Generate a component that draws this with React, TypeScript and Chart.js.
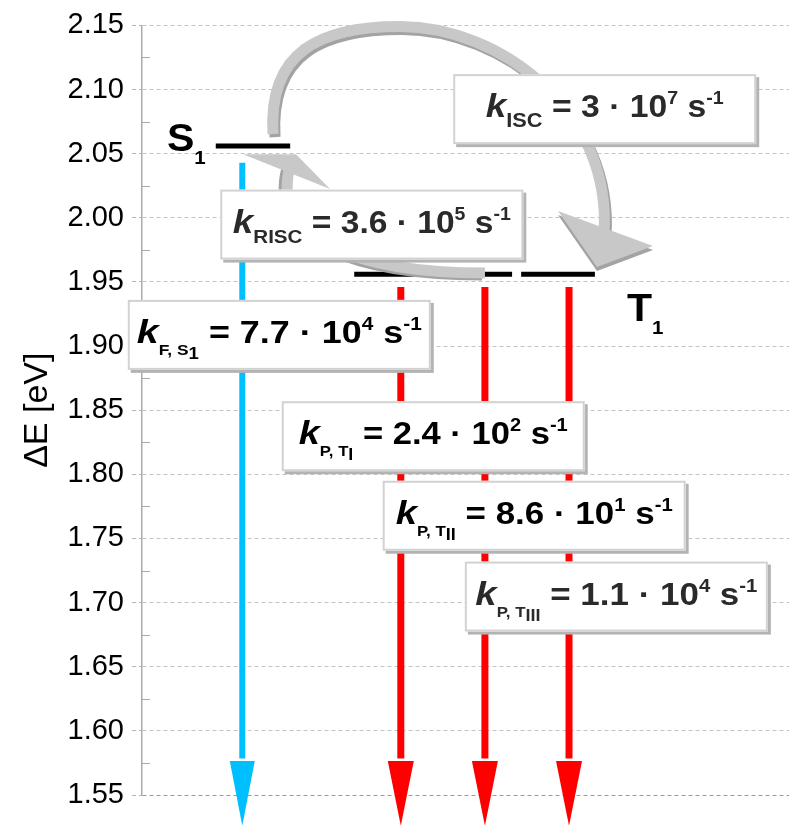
import { useEffect, useRef } from 'react';
import { Chart, registerables } from 'chart.js';
Chart.register(...registerables);

const FONT = '"Liberation Sans", Arial, sans-serif';

// energy axis
const yMin = 1.55;
const yMax = 2.15;
const yStep = 0.05;
const xMin = 0;
const xMax = 10;

// energy levels (S1 and three triplet sub-levels)
const levelNames = ['S1', 'TI', 'TII', 'TIII'];
const levelEnergy = [2.056, 1.956, 1.956, 1.956];
const levelStart = [1.14, 3.28, 4.56, 5.86];
const levelEnd = [2.29, 4.42, 5.72, 7.0];

// radiative decays (arrows)
const decayNames = ['F, S1', 'P, TI', 'P, TII', 'P, TIII'];
const decayX = [1.55, 4.0, 5.3, 6.6];
const decayTop = [2.043, 1.946, 1.946, 1.946];
const decayHeadBase = [1.5765, 1.5765, 1.5765, 1.5765];
const decayTip = [1.526, 1.526, 1.526, 1.526];
const decayColors = ['#00BFFF', '#FF0000', '#FF0000', '#FF0000'];

// rate constants
const rateSub = ['ISC', 'RISC', 'F, S', 'P, T', 'P, T', 'P, T'];
const rateSubSub = ['', '', '1', 'I', 'II', 'III'];
const rateMantissa = ['3', '3.6', '7.7', '2.4', '8.6', '1.1'];
const rateExponent = ['7', '5', '4', '2', '1', '4'];
const boxX = [4.81, 1.21, -0.22, 2.16, 3.72, 4.99];
const boxE = [2.112, 2.022, 1.936, 1.857, 1.795, 1.732];

// curved ISC / RISC arrows (start point then cubic segments)
const iscPathX = [2.025, 1.947, 2.751, 3.988, 5.533, 7.264, 7.141];
const iscPathE = [2.0652, 2.1298, 2.1492, 2.1492, 2.1492, 2.0831, 1.9881];
const iscHeadX = [6.43, 7.898, 7.032];
const iscHeadE = [2.0053, 1.978, 1.9617];
const riscPathX = [5.301, 3.369, 1.978, 2.287];
const riscPathE = [1.957, 1.957, 1.9819, 2.0403];
const riscHeadX = [1.561, 2.38, 2.906];
const riscHeadE = [2.0496, 2.0496, 2.0224];

// state labels
const stateLabels = ['S', 'T'];
const stateSub = ['1', '1'];
const stateX = [0.386, 7.496];
const stateE = [2.052, 1.9196];

// styles
const boxW = 303;
const boxH = 70;
const boxTextW = [238, 278, 285, 269, 277, 282];
const boxTextColor = ['#2a2a2a', '#2a2a2a', '#000', '#000', '#000', '#2a2a2a'];

type Run = { text: string; font: string; dy: number; w?: number };

function drawRuns(ctx: CanvasRenderingContext2D, runs: Run[], x: number, baseline: number, stretch: number, align: 'left' | 'center', color: string) {
  let total = 0;
  for (const r of runs) {
    ctx.font = r.font;
    r.w = ctx.measureText(r.text).width;
    total += r.w;
  }
  ctx.save();
  ctx.translate(x, baseline);
  ctx.scale(stretch, 1);
  ctx.fillStyle = color;
  ctx.textBaseline = 'alphabetic';
  ctx.textAlign = 'left';
  let cx = align === 'center' ? -total / 2 : 0;
  for (const r of runs) {
    ctx.font = r.font;
    ctx.fillText(r.text, cx, r.dy);
    cx += r.w || 0;
  }
  ctx.restore();
  return total;
}

function measureRuns(ctx: CanvasRenderingContext2D, runs: Run[]) {
  let total = 0;
  for (const r of runs) {
    ctx.font = r.font;
    total += ctx.measureText(r.text).width;
  }
  return total;
}

const diagramPlugin = {
  id: 'diagram',
  beforeDatasetsDraw(chart: any) {
    const { ctx, chartArea, scales } = chart;
    const y = scales.y;
    ctx.save();
    ctx.strokeStyle = '#a9a9a9';
    ctx.lineWidth = 1;
    for (let v = yMin + yStep / 2; v < yMax; v += yStep) {
      const py = Math.round(y.getPixelForValue(v)) + 0.5;
      ctx.beginPath();
      ctx.moveTo(chartArea.left, py);
      ctx.lineTo(chartArea.left + 8, py);
      ctx.stroke();
    }
    ctx.restore();
  },
  afterDatasetsDraw(chart: any) {
    const { ctx, scales } = chart;
    const X = (v: number) => scales.x.getPixelForValue(v);
    const Y = (v: number) => scales.y.getPixelForValue(v);

    const ribbon = (xs: number[], es: number[], dx: number, dy: number, color: string, width: number) => {
      ctx.save();
      ctx.strokeStyle = color;
      ctx.lineWidth = width;
      ctx.lineCap = 'butt';
      ctx.beginPath();
      ctx.moveTo(X(xs[0]) + dx, Y(es[0]) + dy);
      for (let i = 1; i + 2 < xs.length; i += 3) {
        ctx.bezierCurveTo(X(xs[i]) + dx, Y(es[i]) + dy, X(xs[i + 1]) + dx, Y(es[i + 1]) + dy, X(xs[i + 2]) + dx, Y(es[i + 2]) + dy);
      }
      ctx.stroke();
      ctx.restore();
    };
    const poly = (xs: number[], es: number[], dx: number, dy: number, color: string) => {
      ctx.save();
      ctx.fillStyle = color;
      ctx.beginPath();
      xs.forEach((xv, i) => {
        const px = X(xv) + dx;
        const py = Y(es[i]) + dy;
        if (i === 0) ctx.moveTo(px, py);
        else ctx.lineTo(px, py);
      });
      ctx.closePath();
      ctx.fill();
      ctx.restore();
    };

    // ISC curved arrow
    ribbon(iscPathX, iscPathE, 2, 3, '#a3a3a3', 11);
    ribbon(iscPathX, iscPathE, 0, 0, '#c8c8c8', 11);
    poly(iscHeadX, iscHeadE, 0, 4, '#a3a3a3');
    poly(iscHeadX, iscHeadE, 0, 0, '#c8c8c8');

    // RISC curved arrow
    ribbon(riscPathX, riscPathE, -3, 2, '#a3a3a3', 11);
    ribbon(riscPathX, riscPathE, 0, 0, '#c8c8c8', 11);
    poly(riscHeadX, riscHeadE, 0, 0, '#c8c8c8');

    // arrow heads of radiative decays
    decayX.forEach((xv, i) => {
      const px = X(xv);
      const half = i === 0 ? 12.5 : 13;
      ctx.save();
      ctx.fillStyle = decayColors[i];
      ctx.beginPath();
      ctx.moveTo(px - half, Y(decayHeadBase[i]));
      ctx.lineTo(px + half, Y(decayHeadBase[i]));
      ctx.lineTo(px, Y(decayTip[i]));
      ctx.closePath();
      ctx.fill();
      ctx.restore();
    });

    // state labels
    stateLabels.forEach((s, i) => {
      const runs: Run[] = [
        { text: s, font: `bold 38px ${FONT}`, dy: 0 },
        { text: stateSub[i], font: `bold 19px ${FONT}`, dy: 13 },
      ];
      drawRuns(ctx, runs, X(stateX[i]), Y(stateE[i]), 1.08, 'left', '#000');
    });

    // rate boxes
    rateMantissa.forEach((m, i) => {
      const bx = X(boxX[i]);
      const by = Y(boxE[i]);
      ctx.save();
      ctx.fillStyle = '#b3b3b3';
      ctx.fillRect(bx + 3, by + 3, boxW, boxH);
      ctx.fillStyle = '#ffffff';
      ctx.fillRect(bx, by, boxW, boxH);
      ctx.strokeStyle = '#d2d2d2';
      ctx.lineWidth = 2;
      ctx.strokeRect(bx + 1, by + 1, boxW - 2, boxH - 2);
      ctx.restore();

      const bigSub = i < 2;
      const runs: Run[] = [
        { text: 'k', font: `italic bold 34px ${FONT}`, dy: 0 },
        { text: rateSub[i], font: `bold ${bigSub ? (i === 0 ? 20 : 19) : 15}px ${FONT}`, dy: bigSub ? 10 : 12 },
      ];
      if (rateSubSub[i]) runs.push({ text: rateSubSub[i], font: `bold 16px ${FONT}`, dy: 16 });
      runs.push({ text: ` = ${m} \u00B7 10`, font: `bold 31px ${FONT}`, dy: 0 });
      runs.push({ text: rateExponent[i], font: `bold 18px ${FONT}`, dy: -13 });
      runs.push({ text: ' s', font: `bold 31px ${FONT}`, dy: 0 });
      runs.push({ text: '-1', font: `bold 18px ${FONT}`, dy: -13 });
      const natural = measureRuns(ctx, runs);
      const stretch = boxTextW[i] / natural;
      drawRuns(ctx, runs, bx + boxW / 2, by + 43, stretch, 'center', boxTextColor[i]);
    });
  },
};

export default function App() {
  const ref = useRef<HTMLCanvasElement | null>(null);
  useEffect(() => {
    if (!ref.current) return;
    const datasets: any[] = [];
    levelNames.forEach((name, i) => {
      datasets.push({
        label: name,
        data: [
          { x: levelStart[i], y: levelEnergy[i] },
          { x: levelEnd[i], y: levelEnergy[i] },
        ],
        borderColor: '#000',
        borderWidth: 5,
        pointRadius: 0,
        borderCapStyle: 'butt',
        clip: false,
      });
    });
    decayNames.forEach((name, i) => {
      datasets.push({
        label: name,
        data: [
          { x: decayX[i], y: decayTop[i] },
          { x: decayX[i], y: decayHeadBase[i] + 0.002 },
        ],
        borderColor: decayColors[i],
        borderWidth: i === 0 ? 6 : 7,
        pointRadius: 0,
        borderCapStyle: 'butt',
        clip: false,
      });
    });

    const chart = new Chart(ref.current, {
      type: 'line',
      data: { datasets },
      plugins: [diagramPlugin],
      options: {
        animation: false,
        responsive: false,
        maintainAspectRatio: false,
        layout: { padding: { top: 24, bottom: 30, left: 0, right: 0 } },
        plugins: { legend: { display: false }, tooltip: { enabled: false } },
        scales: {
          x: { type: 'linear', min: xMin, max: xMax, display: false },
          y: {
            type: 'linear',
            min: yMin,
            max: yMax,
            afterFit: (s: any) => {
              s.width = 142;
            },
            ticks: {
              stepSize: yStep,
              callback: (v: any) => Number(v).toFixed(2),
              font: { family: FONT, size: 29 },
              color: '#000',
              padding: 8,
            },
            grid: {
              color: (c: any) => (c.tick && Math.abs(c.tick.value - yMin) < 1e-6 ? '#9a9a9a' : '#c4c4c4'),
              lineWidth: 1,
              tickLength: 10,
              tickColor: '#b5b5b5',
              tickBorderDash: [4, 3],
            },
            border: { display: true, color: '#ababab', width: 1.5, dash: [4, 3] },
            title: {
              display: true,
              text: '\u0394E [eV]',
              font: { family: FONT, size: 34 },
              color: '#000',
              padding: { top: 17, bottom: 0 },
            },
          },
        },
      } as any,
    });
    return () => chart.destroy();
  }, []);

  return (
    <div style={{ position: 'absolute', left: 0, top: 0, width: 789, height: 825, background: '#fff' }}>
      <canvas ref={ref} width={789} height={825} style={{ display: 'block', width: 789, height: 825 }} />
    </div>
  );
}
